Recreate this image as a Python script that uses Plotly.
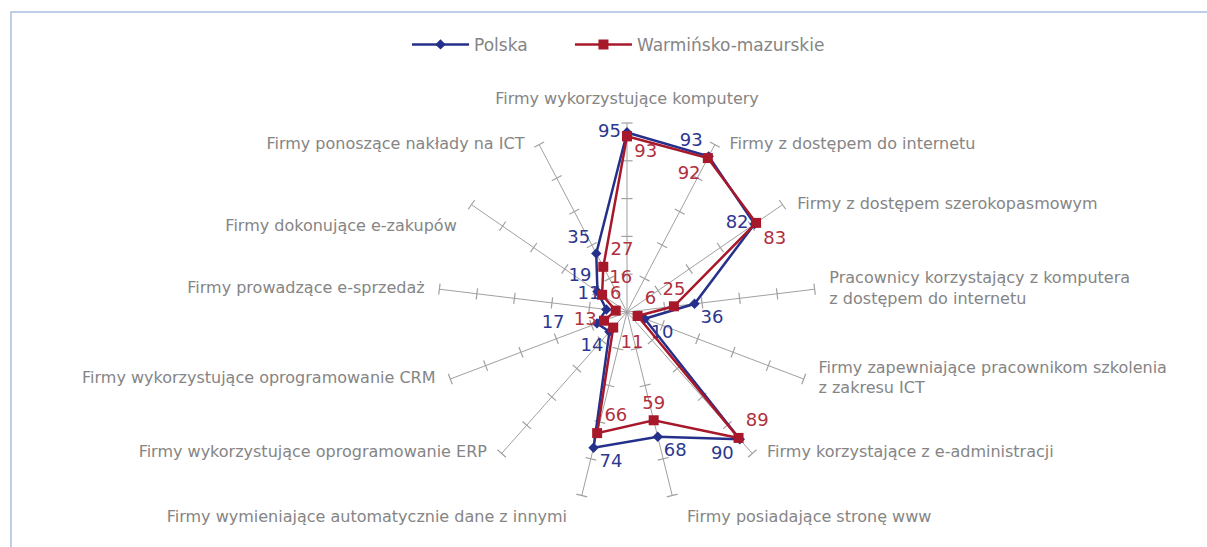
import plotly.graph_objects as go

categories = [
    "Firmy wykorzystujące komputery",
    "Firmy z dostępem do internetu",
    "Firmy z dostępem szerokopasmowym",
    "Pracownicy korzystający z komputera<br>z dostępem do internetu",
    "Firmy zapewniające pracownikom szkolenia<br>z zakresu ICT",
    "Firmy korzystające z e-administracji",
    "Firmy posiadające stronę www",
    "Firmy wymieniające automatycznie dane z innymi",
    "Firmy wykorzystujące oprogramowanie ERP",
    "Firmy wykorzystujące oprogramowanie CRM",
    "Firmy prowadzące e-sprzedaż",
    "Firmy dokonujące e-zakupów",
    "Firmy ponoszące nakłady na ICT",
]
polska = [95, 93, 82, 36, 10, 90, 68, 74, 14, 17, 11, 19, 35]
warminsko = [93, 92, 83, 25, 6, 89, 59, 66, 11, 13, 6, 16, 27]
tick_values = [20, 40, 60, 80, 100]
RADIAL_MAX = 100

cat_pos = ["top center", "middle right", "middle right", "middle right", "middle right",
           "middle right", "bottom right", "bottom left", "middle left", "middle left",
           "middle left", "bottom left", "middle left"]
pl_pos = ["middle left", "top left", "middle left", "bottom right", "bottom right",
          "bottom left", "bottom right", "bottom right", "bottom left", "middle left",
          "top left", "top left", "top left"]
wm_pos = ["bottom right", "bottom left", "bottom right", "top center", "top right",
          "top right", "top center", "top right", "bottom right", "middle left",
          "top center", "top right", "top right"]
PAD = "\u2800"
pl_pad = ["", "", "", "", "", "", "", "", "", PAD * 2, "", "", ""]

BLUE = "#25308a"
RED = "#a8182b"
GRAY = "#a0a0a0"
FONT = "DejaVu Sans, sans-serif"

n = len(categories)
step = 360.0 / n

fig = go.Figure()

# tick marks on the spokes
tk_theta, tk_r, tk_angle = [], [], []
for i, c in enumerate(categories):
    for v in tick_values:
        tk_theta.append(c)
        tk_r.append(v)
        tk_angle.append(i * step)
fig.add_trace(go.Scatterpolar(
    r=tk_r, theta=tk_theta, mode="markers", showlegend=False, hoverinfo="skip",
    marker=dict(symbol="line-ew", size=8, angle=tk_angle,
                line=dict(color=GRAY, width=1.2), color=GRAY),
))

# category labels at the end of each spoke
fig.add_trace(go.Scatterpolar(
    r=[RADIAL_MAX] * n, theta=categories, mode="markers+text", showlegend=False,
    hoverinfo="skip", text=categories, textposition=cat_pos,
    textfont=dict(family=FONT, size=16, color="#858585"),
    marker=dict(size=22, color="rgba(0,0,0,0)"), cliponaxis=False,
))

fig.add_trace(go.Scatterpolar(
    r=polska + polska[:1], theta=categories + categories[:1], name="Polska" + PAD * 3,
    mode="lines+markers+text",
    text=[str(v) + p for v, p in zip(polska, pl_pad)] + [""],
    textposition=pl_pos + ["middle left"],
    textfont=dict(family=FONT, size=18, color="#2c3790"),
    line=dict(color=BLUE, width=2.5),
    marker=dict(symbol="diamond", size=8, color=BLUE),
    cliponaxis=False,
))
fig.add_trace(go.Scatterpolar(
    r=warminsko + warminsko[:1], theta=categories + categories[:1], name="Warmińsko-mazurskie",
    mode="lines+markers+text",
    text=[str(v) for v in warminsko] + [""],
    textposition=wm_pos + ["middle left"],
    textfont=dict(family=FONT, size=18, color="#b0303e"),
    line=dict(color=RED, width=2.5),
    marker=dict(symbol="square", size=10, color=RED),
    cliponaxis=False,
))

W, H = 1207, 547
cx, cy, rad = 627, 312, 189
fig.update_layout(
    width=W, height=H,
    margin=dict(l=0, r=0, t=0, b=0),
    paper_bgcolor="white",
    font=dict(family=FONT, color="#7a7a7a", size=15),
    polar=dict(
        domain=dict(x=[(cx - rad) / W, (cx + rad) / W],
                    y=[(H - cy - rad) / H, (H - cy + rad) / H]),
        bgcolor="rgba(0,0,0,0)",
        radialaxis=dict(range=[0, RADIAL_MAX], showgrid=False, showticklabels=False,
                        showline=False, ticks=""),
        angularaxis=dict(rotation=90, direction="clockwise", showline=False,
                         gridcolor=GRAY, gridwidth=1.4, ticks="",
                         showticklabels=False),
    ),
    legend=dict(orientation="h", x=407 / W, xanchor="left", y=0.918, yanchor="middle",
                font=dict(family=FONT, size=17, color="#858585"),
                itemwidth=57),
    shapes=[dict(type="rect", xref="paper", yref="paper",
                 x0=11 / W, x1=1.01, y0=-0.01, y1=1 - 12 / H,
                 line=dict(color="#a9bde3", width=1.5))],
)

fig.write_html("out.html", post_script="document.body.style.margin='0';",
               config={"displayModeBar": False})
